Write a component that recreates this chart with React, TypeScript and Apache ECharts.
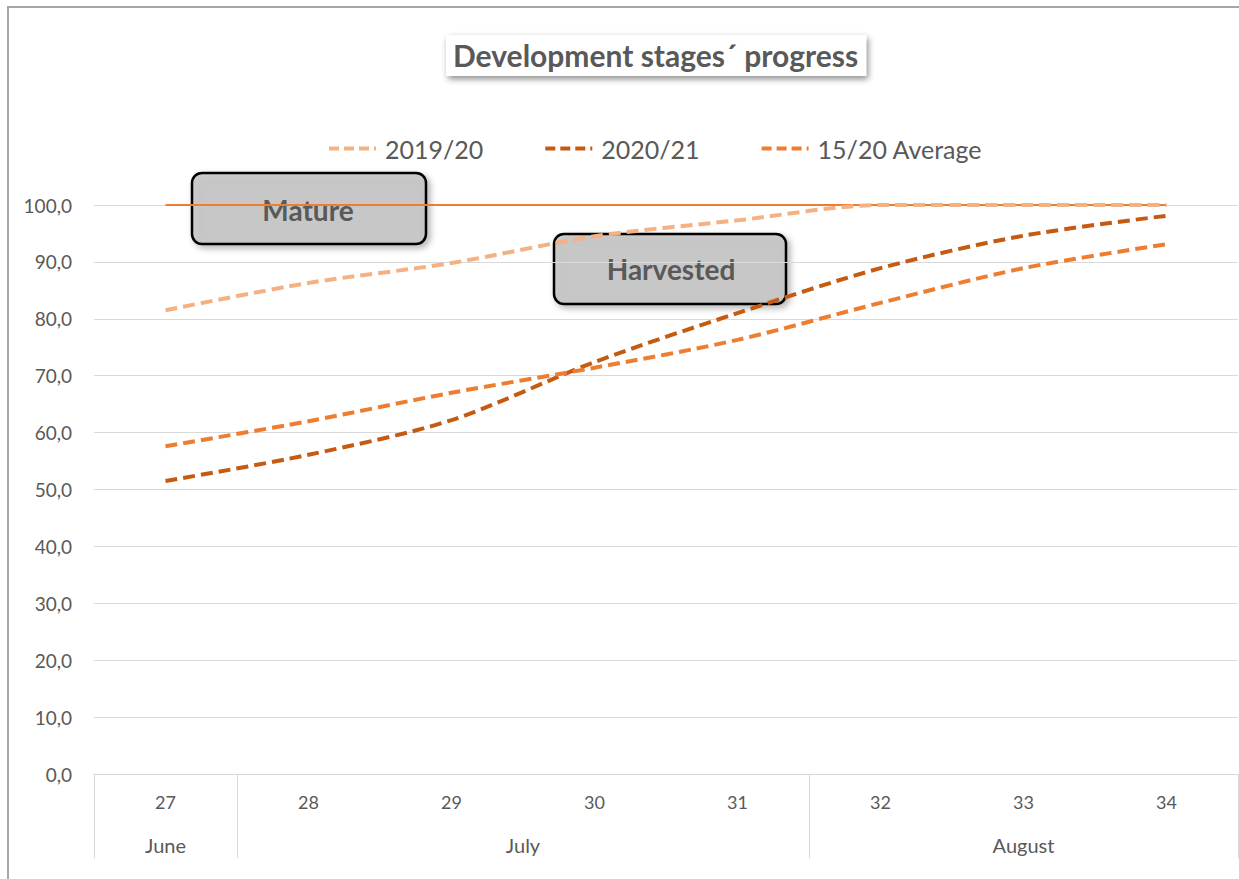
import React, { useEffect, useRef } from "react";
import * as echarts from "echarts";

const weeks = ["27", "28", "29", "30", "31", "32", "33", "34"];
const months = ["June", "July", "August"];
const weeksPerMonth = [1, 4, 3];
const season2019 = [81.5, 86.3, 89.8, 94.5, 97.3, 100, 100, 100];
const season2020 = [51.5, 56.1, 62.2, 72.4, 81.0, 88.9, 94.6, 98.1];
const average1520 = [57.6, 62.0, 67.0, 71.4, 76.3, 82.8, 88.9, 93.1];
const matureLine = [100, 100, 100, 100, 100, 100, 100, 100];
const yTicks = [0, 10, 20, 30, 40, 50, 60, 70, 80, 90, 100];

const FONT = "Lato, 'Noto Sans', sans-serif";
const TXT = "#595959";
const GRIDC = "#D9D9D9";

export default function App() {
  const ref = useRef<HTMLDivElement>(null);
  useEffect(() => {
    if (!ref.current) return;
    const chart = echarts.init(ref.current, undefined, { renderer: "svg" });
    const bounds: number[] = [0];
    weeksPerMonth.forEach((n) => bounds.push(bounds[bounds.length - 1] + n));
    const centers = months.map((_, i) => (bounds[i] + bounds[i + 1]) / 2);
    const dash = { type: [12, 6] as any, width: 4 };
    chart.setOption({
      animation: false,
      textStyle: { fontFamily: FONT },
      title: {
        text: "Development stages´ progress",
        left: 446,
        top: 35,
        padding: [5, 8, 6, 7],
        backgroundColor: "#ffffff",
        shadowBlur: 6,
        shadowColor: "rgba(0,0,0,0.45)",
        shadowOffsetX: 2,
        shadowOffsetY: 3,
        textStyle: { fontFamily: FONT, fontSize: 30, fontWeight: "bold", color: TXT },
      },
      legend: {
        data: ["2019/20", "2020/21", "15/20 Average"],
        left: 322,
        top: 131,
        itemWidth: 47,
        itemHeight: 12,
        itemGap: 60,
        itemStyle: { opacity: 0 },
        lineStyle: { width: 4, type: [10, 5] as any },
        textStyle: { fontFamily: FONT, fontSize: 25, color: TXT, padding: [0, 0, 0, 4] },
      },
      grid: { left: 94, right: 1, top: 205, bottom: 105 },
      xAxis: [
        {
          type: "category",
          data: weeks,
          boundaryGap: true,
          axisLine: { lineStyle: { color: GRIDC, width: 1 } },
          axisTick: { interval: 0, alignWithLabel: false, length: 43, lineStyle: { color: GRIDC } },
          axisLabel: { margin: 19, fontSize: 18, color: TXT, fontFamily: FONT },
        },
        {
          type: "value",
          min: 0,
          max: weeks.length,
          position: "bottom",
          axisLine: { show: false },
          splitLine: { show: false },
          axisTick: {
            show: true,
            customValues: bounds,
            length: 84,
            lineStyle: { color: GRIDC },
          },
          axisLabel: {
            customValues: centers,
            margin: 61,
            fontSize: 20,
            color: TXT,
            fontFamily: FONT,
            formatter: (v: number) => {
              const i = centers.findIndex((c) => Math.abs(c - v) < 1e-6);
              return i >= 0 ? months[i] : "";
            },
          },
        },
      ],
      yAxis: {
        type: "value",
        min: 0,
        max: 100,
        interval: 10,
        axisLine: { show: false },
        axisTick: { show: false },
        splitLine: { lineStyle: { color: GRIDC, width: 1 } },
        axisLabel: {
          margin: 22,
          fontSize: 19,
          color: TXT,
          fontFamily: FONT,
          formatter: (v: number) => (yTicks.includes(v) ? v.toFixed(1).replace(".", ",") : ""),
        },
      },
      series: [
        {
          name: "Mature",
          type: "line",
          data: matureLine,
          symbol: "none",
          lineStyle: { color: "#ED7D31", width: 2 },
          itemStyle: { color: "#ED7D31" },
          z: 1,
        },
        {
          name: "2019/20",
          type: "line",
          data: season2019,
          symbol: "none",
          smooth: 0.3,
          lineStyle: { color: "#F4B183", ...dash },
          itemStyle: { color: "#F4B183" },
          z: 2,
        },
        {
          name: "2020/21",
          type: "line",
          data: season2020,
          symbol: "none",
          smooth: 0.3,
          lineStyle: { color: "#C55A11", ...dash },
          itemStyle: { color: "#C55A11" },
          z: 3,
        },
        {
          name: "15/20 Average",
          type: "line",
          data: average1520,
          symbol: "none",
          smooth: 0.3,
          lineStyle: { color: "#ED7D31", ...dash },
          itemStyle: { color: "#ED7D31" },
          z: 3,
        },
      ],
      graphic: [
        {
          type: "rect",
          z: 0,
          silent: true,
          shape: { x: 8, y: 7, width: 1260, height: 900 },
          style: { fill: "none", stroke: "#A6A6A6", lineWidth: 2 },
        },
        {
          type: "group",
          z: 100,
          children: [
            {
              type: "rect",
              shape: { x: 192, y: 173, width: 234, height: 71, r: 10 },
              style: {
                fill: "rgba(190,190,190,0.7)",
                stroke: "#000",
                lineWidth: 2.5,
                shadowBlur: 6,
                shadowOffsetX: 3,
                shadowOffsetY: 3,
                shadowColor: "rgba(0,0,0,0.35)",
              },
            },
            {
              type: "text",
              x: 308,
              y: 210,
              style: {
                text: "Mature",
                fill: TXT,
                font: `bold 28px ${FONT}`,
                align: "center",
                verticalAlign: "middle",
              },
            },
            {
              type: "rect",
              shape: { x: 554, y: 234, width: 232, height: 70, r: 10 },
              style: {
                fill: "rgba(190,190,190,0.7)",
                stroke: "#000",
                lineWidth: 2.5,
                shadowBlur: 6,
                shadowOffsetX: 3,
                shadowOffsetY: 3,
                shadowColor: "rgba(0,0,0,0.35)",
              },
            },
            {
              type: "text",
              x: 671,
              y: 269,
              style: {
                text: "Harvested",
                fill: TXT,
                font: `bold 28px ${FONT}`,
                align: "center",
                verticalAlign: "middle",
              },
            },
          ],
        },
      ],
    });
    return () => chart.dispose();
  }, []);
  return (
    <div
      ref={ref}
      style={{ position: "absolute", left: 0, top: 0, width: 1239, height: 879 }}
    />
  );
}
